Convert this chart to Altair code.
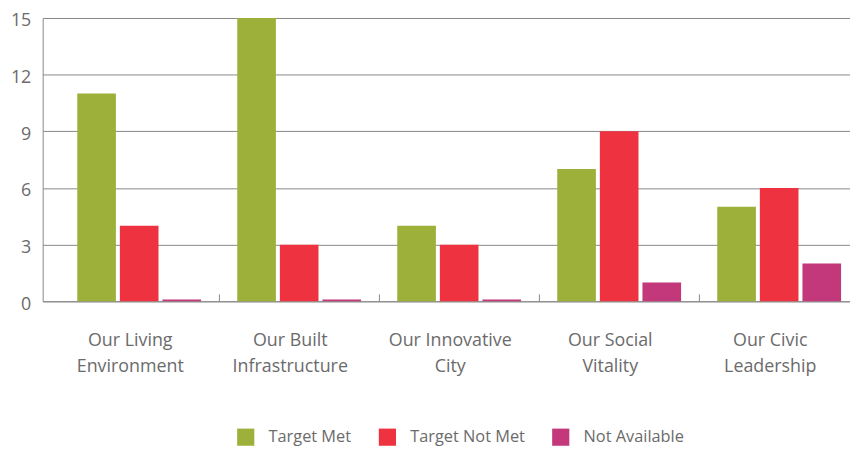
import altair as alt
import pandas as pd

categories = ["Our Living\nEnvironment", "Our Built\nInfrastructure", "Our Innovative\nCity",
              "Our Social\nVitality", "Our Civic\nLeadership"]
series = ["Target Met", "Target Not Met", "Not Available"]
target_met = [11, 15, 4, 7, 5]
target_not_met = [4, 3, 3, 9, 6]
not_available = [0.1, 0.1, 0.1, 1, 2]
colors = ["#9cb03a", "#ef323f", "#c2387b"]
y_ticks = [0, 3, 6, 9, 12, 15]

rows = []
for i, c in enumerate(categories):
    for s, vals in zip(series, [target_met, target_not_met, not_available]):
        rows.append({"category": c, "series": s, "value": vals[i]})
df = pd.DataFrame(rows)
tick_df = pd.DataFrame({"category": categories[1:]})

font = "Open Sans"
txt = "#6b6b6b"
H = 286

xscale = alt.Scale(domain=categories, paddingInner=0.226, paddingOuter=0.136, align=0.795)

bars = alt.Chart(df).mark_bar().encode(
    x=alt.X("category:N", sort=categories, scale=xscale,
            axis=alt.Axis(title=None, labelAngle=0, labelExpr="split(datum.label, '\\n')",
                          labelFontSize=18, labelColor=txt, labelFont=font, labelLineHeight=26,
                          labelPadding=31, labelOffset=-9, ticks=False,
                          domainColor="#888", grid=False)),
    xOffset=alt.XOffset("series:N", sort=series, scale=alt.Scale(paddingInner=0.093, paddingOuter=0)),
    y=alt.Y("value:Q", scale=alt.Scale(domain=[0, 15], nice=False),
            axis=alt.Axis(title=None, values=y_ticks, ticks=False, labelFontSize=18, labelColor=txt,
                          labelFont=font, labelPadding=12, labelOffset=3, domainColor="#888",
                          gridColor="#888")),
    color=alt.Color("series:N", sort=series, scale=alt.Scale(domain=series, range=colors),
                    legend=alt.Legend(title=None, orient="none", legendX=196, legendY=414,
                                      direction="horizontal", symbolType="square", symbolSize=300,
                                      symbolStrokeWidth=0, labelFontSize=16.5, labelColor=txt,
                                      labelFont=font, labelOffset=14, columnPadding=27, padding=0,
                                      symbolOpacity=1)),
)

ticks = alt.Chart(tick_df).mark_rule(color="#888", xOffset=-18, strokeWidth=1).encode(
    x=alt.X("category:N", sort=categories, scale=xscale, bandPosition=0),
    y=alt.value(H - 7),
    y2=alt.value(H),
)

chart = alt.layer(bars, ticks).properties(
    width=815, height=H,
    padding={"left": 35, "top": 8, "right": 0, "bottom": 146},
    autosize=alt.AutoSizeParams(type="none"),
).configure_view(strokeWidth=0)

chart.save("out.html", embed_options={"renderer": "svg", "actions": False})
